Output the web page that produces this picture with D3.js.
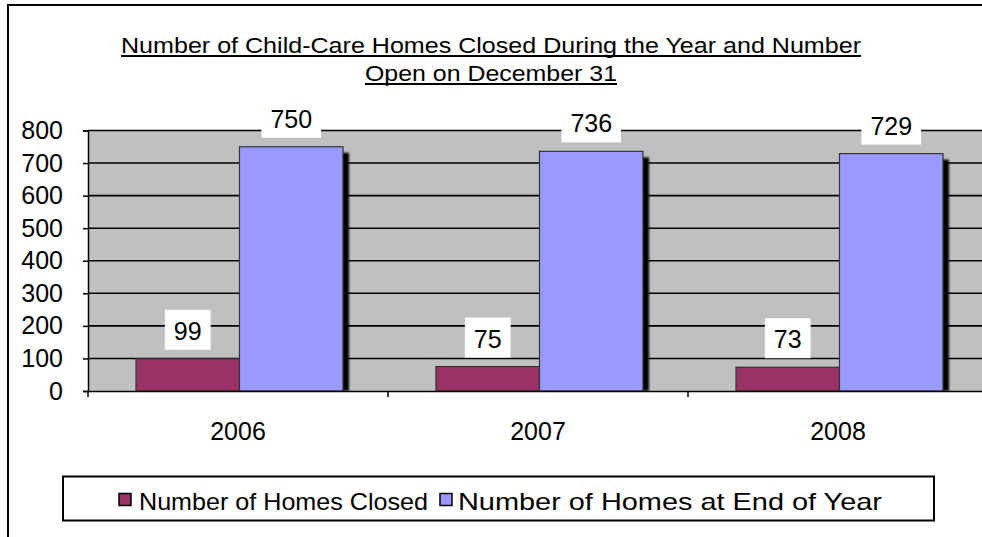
<!DOCTYPE html>
<html>
<head>
<meta charset="utf-8">
<script src="https://cdn.jsdelivr.net/npm/d3@7/dist/d3.min.js"></script>
<style>
  html, body { margin: 0; padding: 0; background: #fff; }
  svg { display: block; font-family: Arial, "Liberation Sans", sans-serif; }
</style>
</head>
<body>
<svg id="chart" width="982" height="537"></svg>
<script>
// Chart data
const years = ["2006", "2007", "2008"];
const seriesNames = ["Number of Homes Closed", "Number of Homes at End of Year"];
const homesClosed = [99, 75, 73];
const homesOpen = [750, 736, 729];
const yTicks = [0, 100, 200, 300, 400, 500, 600, 700, 800];
const titleLines = ["Number of Child-Care Homes Closed During the Year and Number", "Open on December 31"];
const seriesColors = ["#993366", "#9999FF"];

const svg = d3.select("#chart");

// Outer chart frame (runs past the right and bottom edges)
svg.append("rect")
  .attr("x", 8).attr("y", 5)
  .attr("width", 1000).attr("height", 560)
  .attr("fill", "#fff").attr("stroke", "#000").attr("stroke-width", 2);

// Title, underlined
const titleLen = [740, 252];
const titleY = [53, 81];
titleLines.forEach((t, i) => {
  svg.append("text")
    .attr("x", 491).attr("y", titleY[i])
    .attr("text-anchor", "middle")
    .attr("font-size", 22.5)
    .attr("textLength", titleLen[i])
    .attr("lengthAdjust", "spacingAndGlyphs")
    .attr("fill", "#000")
    .text(t);
  svg.append("line")
    .attr("x1", 491 - titleLen[i] / 2).attr("x2", 491 + titleLen[i] / 2)
    .attr("y1", titleY[i] + 3).attr("y2", titleY[i] + 3)
    .attr("stroke", "#000").attr("stroke-width", 2);
});

// Plot geometry
const plotLeft = 88, plotRight = 988, plotTop = 130.5, plotBottom = 391;

const y = d3.scaleLinear().domain([0, 800]).range([plotBottom, plotTop]);
const x0 = d3.scaleBand().domain(years).range([plotLeft, plotRight]).padding(0);
const x1 = d3.scaleBand().domain(seriesNames)
  .range([x0.bandwidth() * 0.16, x0.bandwidth() * 0.85]).padding(0);

// Plot area background
svg.append("rect")
  .attr("x", plotLeft).attr("y", plotTop)
  .attr("width", plotRight - plotLeft).attr("height", plotBottom - plotTop)
  .attr("fill", "#C0C0C0");

// Horizontal gridlines
svg.append("g")
  .selectAll("line")
  .data(yTicks.filter(d => d > 0))
  .join("line")
  .attr("x1", plotLeft).attr("x2", plotRight)
  .attr("y1", d => y(d)).attr("y2", d => y(d))
  .attr("stroke", "#000").attr("stroke-width", 1.6);

// Clip for bar shadows
const defs = svg.append("defs");
defs.append("clipPath").attr("id", "plotClip")
  .append("rect")
  .attr("x", plotLeft).attr("y", plotTop - 20)
  .attr("width", plotRight - plotLeft).attr("height", plotBottom - plotTop + 20);
const blur = defs.append("filter").attr("id", "soft")
  .attr("x", "-20%").attr("y", "-20%").attr("width", "140%").attr("height", "140%");
blur.append("feGaussianBlur").attr("stdDeviation", 0.8);

const rows = years.map((yr, i) => ({ year: yr, values: [homesClosed[i], homesOpen[i]] }));
const groups = svg.append("g").attr("clip-path", "url(#plotClip)")
  .selectAll("g")
  .data(rows)
  .join("g")
  .attr("transform", d => `translate(${x0(d.year)},0)`);

groups.each(function (d) {
  const g = d3.select(this);
  d.values.forEach((v, s) => {
    const bx = x1(seriesNames[s]);
    const bw = x1.bandwidth();
    // drop shadow
    g.append("rect")
      .attr("x", bx + 6).attr("y", y(v) + 6)
      .attr("width", bw).attr("height", Math.max(0, plotBottom - y(v) - 6))
      .attr("fill", "#000")
      .attr("filter", "url(#soft)");
  });
  d.values.forEach((v, s) => {
    g.append("rect")
      .attr("x", x1(seriesNames[s])).attr("y", y(v))
      .attr("width", x1.bandwidth()).attr("height", plotBottom - y(v))
      .attr("fill", seriesColors[s])
      .attr("stroke", "#333").attr("stroke-width", 1.2);
  });
});

// Y axis
const yAxis = svg.append("g")
  .attr("transform", `translate(${plotLeft},0)`)
  .call(d3.axisLeft(y).tickValues(yTicks).tickSize(5).tickPadding(20).tickFormat(d3.format("d")));
yAxis.select(".domain").attr("stroke", "#000").attr("stroke-width", 1.5);
yAxis.selectAll(".tick line").attr("stroke", "#000").attr("stroke-width", 1.5);
yAxis.selectAll(".tick text")
  .attr("font-size", 25).attr("fill", "#000")
  .attr("font-family", "Arial, 'Liberation Sans', sans-serif");

// X axis
const xAxis = svg.append("g")
  .attr("transform", `translate(0,${plotBottom})`)
  .call(d3.axisBottom(x0).tickSize(0).tickPadding(31));
xAxis.select(".domain").attr("stroke", "#000").attr("stroke-width", 1.5);
xAxis.selectAll(".tick text")
  .attr("font-size", 25).attr("fill", "#000")
  .attr("font-family", "Arial, 'Liberation Sans', sans-serif");
// category boundary ticks
svg.append("g")
  .selectAll("line")
  .data(years)
  .join("line")
  .attr("x1", d => x0(d)).attr("x2", d => x0(d))
  .attr("y1", plotBottom).attr("y2", plotBottom + 6)
  .attr("stroke", "#000").attr("stroke-width", 1.5);

// Value labels in white boxes
const labels = svg.append("g");
rows.forEach(d => {
  d.values.forEach((v, s) => {
    const cx = x0(d.year) + x1(seriesNames[s]) + x1.bandwidth() / 2;
    const bottom = y(v) - 9;
    const txt = String(v);
    const w = txt.length * 13.9 + 18;
    labels.append("rect")
      .attr("x", cx - w / 2).attr("y", bottom - 40)
      .attr("width", w).attr("height", 40)
      .attr("fill", "#fff");
    labels.append("text")
      .attr("x", cx).attr("y", bottom - 10)
      .attr("text-anchor", "middle")
      .attr("font-size", 25).attr("fill", "#000")
      .text(txt);
  });
});

// Legend
const legend = svg.append("g");
legend.append("rect")
  .attr("x", 63).attr("y", 476.5)
  .attr("width", 871).attr("height", 44)
  .attr("fill", "#fff").attr("stroke", "#000").attr("stroke-width", 2);
const legendItems = [
  { name: seriesNames[0], color: seriesColors[0], sx: 119, tx: 139, len: 289 },
  { name: seriesNames[1], color: seriesColors[1], sx: 440, tx: 458, len: 424 }
];
legendItems.forEach(it => {
  legend.append("rect")
    .attr("x", it.sx).attr("y", 493.5)
    .attr("width", 12).attr("height", 12)
    .attr("fill", it.color).attr("stroke", "#000").attr("stroke-width", 1.5);
  legend.append("text")
    .attr("x", it.tx).attr("y", 510)
    .attr("font-size", 24).attr("fill", "#000")
    .attr("textLength", it.len)
    .attr("lengthAdjust", "spacingAndGlyphs")
    .text(it.name);
});
</script>
</body>
</html>
